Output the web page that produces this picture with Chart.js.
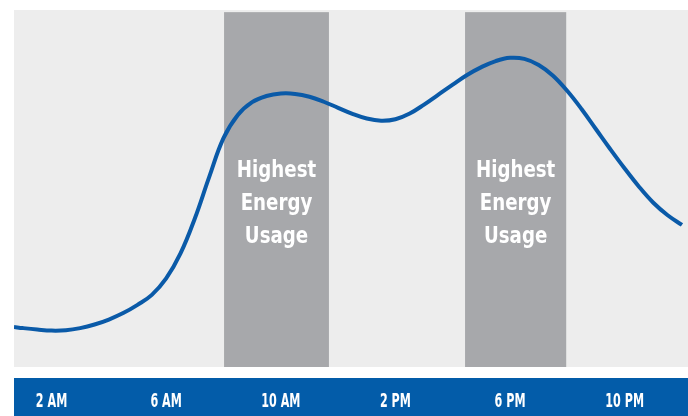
<!DOCTYPE html>
<html lang="en">
<head>
    <meta charset="UTF-8">
    <title>Daily Energy Usage</title>
    <script src="https://cdn.jsdelivr.net/npm/chart.js"></script>
    <style>
        body {
            margin: 0;
            padding: 0;
            background-color: #fff;
        }

        .chart-wrapper {
            width: 688px;
            height: 416px;
        }
    </style>
</head>
<body>

    <div class="chart-wrapper">
        <canvas id="usageChart"></canvas>
    </div>

    <script>
        // Usage curve over the day, sampled every half hour (hour of day -> relative load)
        const hours = [0.69, 1, 1.5, 2, 2.5, 3, 3.5, 4, 4.5, 5, 5.5, 6, 6.5, 7, 7.5, 8, 8.5, 9, 9.5, 10, 10.5, 11, 11.5, 12,
                       12.5, 13, 13.5, 14, 14.5, 15, 15.5, 16, 16.5, 17, 17.5, 18, 18.5, 19, 19.5, 20, 20.5, 21, 21.5, 22, 22.5, 23, 23.5, 24];
        const usage = [11.2, 10.9, 10.5, 10.2, 10.3, 10.9, 11.9, 13.3, 15.1, 17.4, 20.2, 24.8, 31.8, 41.6, 53.2, 64.1, 70.6, 74.2, 75.9, 76.6, 76.5, 75.7, 74.3, 72.6,
                       70.9, 69.6, 69.0, 69.4, 71.0, 73.5, 76.3, 79.1, 81.8, 84.0, 85.7, 86.6, 86.3, 84.6, 81.6, 77.3, 72.2, 66.6, 61.0, 55.6, 50.5, 46.0, 42.5, 39.8];

        // Axis ticks
        const tickHours = [2, 6, 10, 14, 18, 22];
        const tickLabels = ['2 AM', '6 AM', '10 AM', '2 PM', '6 PM', '10 PM'];

        // Peak periods (start hour, end hour)
        const peakStarts = [8.02, 16.43];
        const peakEnds = [11.68, 19.96];
        const peakText = ['Highest', 'Energy', 'Usage'];
        const peakTextY = [53.2, 44, 34.7];

        // condensed bold face, squeezed a bit more when drawn
        const narrowBold = '"DejaVu Sans Condensed", "Liberation Sans Narrow", sans-serif';

        function squeezedText(ctx, text, x, y, sx) {
            ctx.save();
            ctx.translate(x, y);
            ctx.scale(sx, 1);
            ctx.fillText(text, 0, 0);
            ctx.restore();
        }

        // Gray plot background, peak bands, blue axis strip and its labels
        const backdrop = {
            id: 'backdrop',
            beforeDraw(chart) {
                const { ctx, chartArea } = chart;
                ctx.save();
                ctx.fillStyle = '#035ca9';
                ctx.fillRect(chartArea.left, chartArea.bottom + 11, chart.width - chartArea.left, chart.height - chartArea.bottom - 11);
                ctx.restore();
            },
            beforeDatasetsDraw(chart) {
                const { ctx, chartArea, scales } = chart;
                const x = scales.x, y = scales.y;
                ctx.save();
                ctx.fillStyle = '#ededed';
                ctx.fillRect(chartArea.left, chartArea.top, chartArea.right - chartArea.left, chartArea.bottom - chartArea.top);

                ctx.fillStyle = '#a7a8ab';
                const bandTop = y.getPixelForValue(99.4);
                for (let i = 0; i < peakStarts.length; i++) {
                    const x0 = x.getPixelForValue(peakStarts[i]);
                    const x1 = x.getPixelForValue(peakEnds[i]);
                    ctx.fillRect(x0, bandTop, x1 - x0, chartArea.bottom - bandTop);
                }

                ctx.fillStyle = '#fff';
                ctx.font = 'bold 23px ' + narrowBold;
                ctx.textAlign = 'center';
                ctx.textBaseline = 'alphabetic';
                for (let i = 0; i < peakStarts.length; i++) {
                    const cx = x.getPixelForValue((peakStarts[i] + peakEnds[i]) / 2);
                    peakText.forEach((t, j) => squeezedText(ctx, t, cx, y.getPixelForValue(peakTextY[j]), 0.88));
                }
                ctx.restore();
            },
            afterDraw(chart) {
                const { ctx, chartArea, scales } = chart;
                ctx.save();
                ctx.fillStyle = '#fff';
                ctx.font = 'bold 20px ' + narrowBold;
                ctx.textAlign = 'center';
                ctx.textBaseline = 'alphabetic';
                tickHours.forEach((h, i) => {
                    squeezedText(ctx, tickLabels[i], scales.x.getPixelForValue(h), chartArea.bottom + 40, 0.62);
                });
                ctx.restore();
            }
        };

        const ctx = document.getElementById('usageChart').getContext('2d');
        const usageChart = new Chart(ctx, {
            type: 'line',
            data: {
                datasets: [{
                    data: hours.map((h, i) => ({ x: h, y: usage[i] })),
                    borderColor: '#0a5aa8',
                    borderWidth: 4,
                    pointRadius: 0,
                    tension: 0.4,
                    fill: false
                }]
            },
            options: {
                responsive: true,
                maintainAspectRatio: false,
                animation: false,
                layout: {
                    padding: { left: 14, top: 10, right: 0, bottom: 0 }
                },
                plugins: {
                    legend: { display: false },
                    tooltip: { enabled: false }
                },
                scales: {
                    x: {
                        type: 'linear',
                        min: 0.69,
                        max: 24.21,
                        afterFit: (scale) => {
                            scale.height = 49;
                        },
                        ticks: { display: false },
                        grid: { display: false, drawTicks: false },
                        border: { display: false }
                    },
                    y: {
                        display: false,
                        min: 0,
                        max: 100
                    }
                }
            },
            plugins: [backdrop]
        });
    </script>
</body>
</html>
